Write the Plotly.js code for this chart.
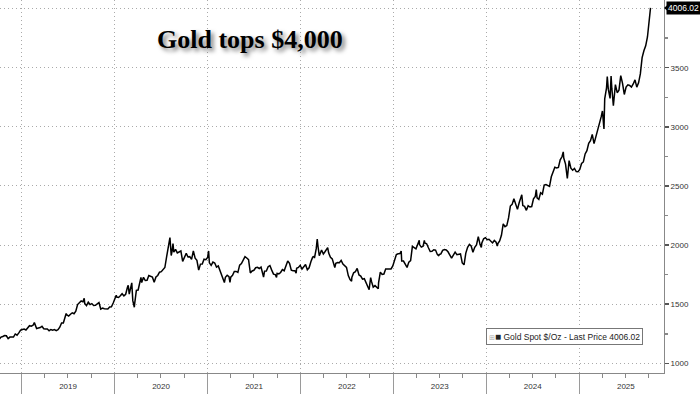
<!DOCTYPE html>
<html>
<head>
<meta charset="utf-8">
<script src="https://cdn.plot.ly/plotly-3.0.1.min.js"></script>
<style>html,body{margin:0;padding:0;background:#fff;}#chart{width:700px;height:394px;}</style>
</head>
<body>
<div id="chart"></div>
<script>
const dates = [
"2018-10-05","2018-10-12","2018-10-19","2018-10-26","2018-11-02","2018-11-09","2018-11-16","2018-11-23","2018-11-30","2018-12-07","2018-12-14","2018-12-21","2018-12-28",
"2019-01-04","2019-01-11","2019-01-18","2019-01-25","2019-02-01","2019-02-08","2019-02-15","2019-02-20","2019-02-22","2019-03-01","2019-03-08","2019-03-15","2019-03-22","2019-03-29","2019-04-05","2019-04-12","2019-04-19","2019-04-26","2019-05-03","2019-05-10","2019-05-17","2019-05-24","2019-05-31","2019-06-07","2019-06-14","2019-06-21","2019-06-25","2019-06-28","2019-07-05","2019-07-12","2019-07-19","2019-07-26","2019-08-02","2019-08-09","2019-08-16","2019-08-23","2019-08-30","2019-09-04","2019-09-06","2019-09-13","2019-09-20","2019-09-27","2019-10-04","2019-10-11","2019-10-18","2019-10-25","2019-11-01","2019-11-08","2019-11-15","2019-11-22","2019-11-29","2019-12-06","2019-12-13","2019-12-20","2019-12-27",
"2020-01-03","2020-01-08","2020-01-10","2020-01-17","2020-01-24","2020-01-31","2020-02-07","2020-02-14","2020-02-21","2020-02-24","2020-02-28","2020-03-06","2020-03-09","2020-03-13","2020-03-19","2020-03-20","2020-03-27","2020-04-03","2020-04-10","2020-04-14","2020-04-17","2020-04-24","2020-05-01","2020-05-08","2020-05-15","2020-05-22","2020-05-29","2020-06-05","2020-06-12","2020-06-19","2020-06-26","2020-07-03","2020-07-10","2020-07-17","2020-07-24","2020-07-31","2020-08-06","2020-08-07","2020-08-11","2020-08-14","2020-08-18","2020-08-21","2020-08-28","2020-09-04","2020-09-11","2020-09-18","2020-09-25","2020-10-02","2020-10-09","2020-10-16","2020-10-23","2020-10-30","2020-11-06","2020-11-13","2020-11-20","2020-11-27","2020-12-04","2020-12-11","2020-12-18","2020-12-25",
"2021-01-01","2021-01-05","2021-01-08","2021-01-15","2021-01-22","2021-01-29","2021-02-05","2021-02-12","2021-02-19","2021-02-26","2021-03-05","2021-03-08","2021-03-12","2021-03-19","2021-03-26","2021-03-30","2021-04-02","2021-04-09","2021-04-16","2021-04-23","2021-04-30","2021-05-07","2021-05-14","2021-05-21","2021-05-28","2021-06-04","2021-06-11","2021-06-18","2021-06-25","2021-07-02","2021-07-09","2021-07-16","2021-07-23","2021-07-30","2021-08-06","2021-08-09","2021-08-13","2021-08-20","2021-08-27","2021-09-03","2021-09-10","2021-09-17","2021-09-24","2021-09-29","2021-10-01","2021-10-08","2021-10-15","2021-10-22","2021-10-29","2021-11-05","2021-11-12","2021-11-19","2021-11-26","2021-12-03","2021-12-10","2021-12-15","2021-12-17","2021-12-24","2021-12-31",
"2022-01-07","2022-01-14","2022-01-21","2022-01-28","2022-02-04","2022-02-11","2022-02-18","2022-02-24","2022-02-25","2022-03-04","2022-03-08","2022-03-11","2022-03-16","2022-03-18","2022-03-25","2022-04-01","2022-04-08","2022-04-18","2022-04-22","2022-04-29","2022-05-06","2022-05-13","2022-05-16","2022-05-20","2022-05-27","2022-06-03","2022-06-10","2022-06-17","2022-06-24","2022-07-01","2022-07-08","2022-07-15","2022-07-21","2022-07-22","2022-07-29","2022-08-05","2022-08-12","2022-08-19","2022-08-26","2022-09-02","2022-09-09","2022-09-16","2022-09-23","2022-09-28","2022-09-30","2022-10-04","2022-10-07","2022-10-14","2022-10-21","2022-10-28","2022-11-03","2022-11-04","2022-11-11","2022-11-18","2022-11-25","2022-12-02","2022-12-09","2022-12-16","2022-12-23","2022-12-30",
"2023-01-06","2023-01-13","2023-01-20","2023-01-27","2023-02-01","2023-02-03","2023-02-10","2023-02-17","2023-02-24","2023-03-03","2023-03-10","2023-03-17","2023-03-24","2023-03-31","2023-04-07","2023-04-13","2023-04-14","2023-04-21","2023-04-28","2023-05-03","2023-05-05","2023-05-12","2023-05-19","2023-05-26","2023-06-02","2023-06-09","2023-06-16","2023-06-23","2023-06-29","2023-06-30","2023-07-07","2023-07-14","2023-07-21","2023-07-28","2023-08-04","2023-08-11","2023-08-18","2023-08-25","2023-09-01","2023-09-08","2023-09-15","2023-09-22","2023-09-29","2023-10-06","2023-10-13","2023-10-20","2023-10-27","2023-11-03","2023-11-10","2023-11-17","2023-11-24","2023-12-01","2023-12-08","2023-12-13","2023-12-15","2023-12-22","2023-12-29",
"2024-01-05","2024-01-12","2024-01-19","2024-01-26","2024-02-02","2024-02-09","2024-02-14","2024-02-16","2024-02-23","2024-03-01","2024-03-08","2024-03-15","2024-03-22","2024-03-29","2024-04-05","2024-04-12","2024-04-19","2024-04-26","2024-05-03","2024-05-10","2024-05-17","2024-05-20","2024-05-24","2024-05-31","2024-06-07","2024-06-14","2024-06-21","2024-06-28","2024-07-05","2024-07-12","2024-07-16","2024-07-19","2024-07-26","2024-08-02","2024-08-09","2024-08-16","2024-08-23","2024-08-30","2024-09-06","2024-09-13","2024-09-20","2024-09-27","2024-10-04","2024-10-11","2024-10-18","2024-10-25","2024-10-30","2024-11-01","2024-11-08","2024-11-14","2024-11-15","2024-11-22","2024-11-29","2024-12-06","2024-12-13","2024-12-20","2024-12-27",
"2025-01-03","2025-01-10","2025-01-17","2025-01-24","2025-01-31","2025-02-07","2025-02-14","2025-02-21","2025-02-28","2025-03-07","2025-03-14","2025-03-21","2025-03-28","2025-04-02","2025-04-04","2025-04-08","2025-04-11","2025-04-18","2025-04-21","2025-04-25","2025-05-02","2025-05-06","2025-05-09","2025-05-15","2025-05-16","2025-05-23","2025-05-30","2025-06-06","2025-06-13","2025-06-20","2025-06-27","2025-07-04","2025-07-11","2025-07-18","2025-07-25","2025-08-01","2025-08-08","2025-08-15","2025-08-22","2025-08-29","2025-09-05","2025-09-12","2025-09-19","2025-09-26","2025-10-03","2025-10-07","2025-10-08"
];
const goldPrice = [
1203,1222,1227,1235,1233,1209,1222,1223,1222,1248,1238,1257,1280,
1286,1290,1282,1303,1318,1314,1322,1344,1328,1294,1298,1302,1313,1292,1291,1290,1276,1286,1280,1285,1277,1284,1305,1341,1341,1400,1421,1409,1400,1415,1426,1419,1440,1497,1513,1527,1520,1550,1507,1488,1517,1497,1505,1489,1490,1505,1514,1459,1468,1462,1464,1460,1476,1478,1510,
1552,1575,1560,1557,1571,1589,1570,1584,1643,1660,1585,1674,1680,1530,1474,1498,1617,1620,1683,1727,1683,1727,1700,1702,1743,1735,1730,1685,1730,1743,1771,1775,1798,1810,1902,1975,2063,2035,1912,1944,2013,1940,1964,1934,1941,1950,1862,1900,1930,1899,1902,1879,1951,1889,1871,1788,1839,1840,1881,1877,
1895,1950,1850,1828,1856,1848,1814,1824,1784,1734,1700,1683,1727,1745,1733,1685,1729,1744,1777,1777,1769,1831,1844,1881,1903,1891,1877,1764,1781,1787,1808,1812,1802,1814,1763,1730,1780,1781,1817,1827,1788,1754,1750,1726,1761,1757,1768,1793,1783,1818,1865,1846,1788,1783,1783,1763,1804,1811,1829,
1797,1817,1835,1791,1808,1859,1898,1904,1889,1970,2050,1988,1910,1921,1958,1925,1946,1979,1932,1897,1883,1811,1810,1846,1853,1851,1871,1840,1827,1811,1742,1708,1695,1727,1766,1775,1802,1747,1738,1712,1716,1675,1644,1622,1660,1725,1695,1644,1657,1645,1630,1681,1771,1751,1755,1797,1797,1793,1798,1824,
1865,1920,1926,1928,1950,1865,1865,1842,1811,1856,1868,1989,1978,1969,2007,2040,2004,1983,1990,2040,2017,2011,1977,1946,1948,1961,1958,1921,1908,1919,1925,1955,1962,1959,1943,1914,1889,1915,1940,1919,1924,1925,1849,1833,1932,1981,2006,1992,1940,1981,2002,2072,2004,1980,2019,2053,2063,
2045,2049,2029,2018,2039,2024,1992,2013,2035,2083,2179,2156,2165,2230,2330,2344,2392,2337,2302,2360,2415,2425,2334,2327,2294,2333,2322,2326,2392,2411,2469,2400,2387,2443,2431,2507,2512,2503,2497,2578,2622,2658,2653,2657,2721,2747,2788,2736,2685,2565,2563,2715,2650,2633,2648,2622,2621,
2640,2690,2703,2771,2798,2861,2883,2936,2858,2910,2984,3023,3084,3134,3037,2982,3237,3327,3425,3319,3240,3430,3325,3180,3202,3357,3289,3310,3433,3368,3274,3337,3355,3350,3337,3363,3397,3336,3372,3448,3586,3643,3685,3760,3886,3985,4006.02
];
const seriesName = "Gold Spot $/Oz - Last Price";
const lastPrice = 4006.02;
const chartTitle = "Gold tops $4,000";
const yTickVals = [1000, 1500, 2000, 2500, 3000, 3500, 4000];
const yTickText = ["1000", "1500", "2000", "2500", "3000", "3500", ""];
const xRange = ["2018-10-08", "2025-11-30"];
const yRange = [918, 4073];

const gridCol = "#aaaaaa";
const gridDash = "1px,3px";
const tickFont = {family: "Liberation Sans, Arial, sans-serif", size: 8, color: "#333"};

const trace = {
  x: dates, y: goldPrice, type: "scatter", mode: "lines",
  name: seriesName, line: {color: "#000", width: 1.5}, hoverinfo: "skip", showlegend: false
};

const layout = {
  width: 700, height: 394,
  margin: {l: 0, r: 36, t: 0, b: 21, pad: 0},
  paper_bgcolor: "#fff", plot_bgcolor: "#fff",
  showlegend: false,
  xaxis: {
    type: "date", range: xRange, tick0: "2019-01-01", dtick: "M12",
    tickformat: "%Y", ticklabelmode: "period", ticks: "outside", ticklen: 21,
    tickcolor: "#9a9a9a", tickwidth: 1, ticklabelstandoff: -16,
    showgrid: true, gridcolor: gridCol, griddash: gridDash, gridwidth: 1,
    showline: true, linecolor: "#888", linewidth: 1, zeroline: false,
    tickfont: tickFont,
    minor: {tick0: "2019-01-01", dtick: "M3", ticks: "outside", ticklen: 4, tickcolor: "#888", showgrid: false},
    fixedrange: true
  },
  yaxis: {
    side: "right", range: yRange, tickmode: "array", tickvals: yTickVals, ticktext: yTickText,
    ticks: "outside", ticklen: 4, tickcolor: "#555", tickwidth: 1.5,
    showgrid: true, gridcolor: gridCol, griddash: gridDash, gridwidth: 1,
    showline: true, linecolor: "#888", linewidth: 1, zeroline: false,
    tickfont: tickFont,
    minor: {tick0: 1000, dtick: 250, ticks: "outside", ticklen: 3, tickcolor: "#888", showgrid: false},
    fixedrange: true
  },
  annotations: [
    {
      xref: "paper", yref: "paper", x: 0.3758, y: 0.893, xanchor: "center", yanchor: "middle",
      text: chartTitle, showarrow: false,
      font: {family: "Liberation Serif, Times New Roman, serif", size: 26, color: "#000", weight: "bold",
             shadow: "3px 3px 4px rgba(0,0,0,0.5)"}
    },
    {
      xref: "paper", yref: "paper", x: 0.8494, y: 0.0984, xanchor: "center", yanchor: "middle",
      text: "<span style='color:#aaa;font-size:7px'>⊞</span><span style='font-size:10px'>■</span> " + seriesName + " " + lastPrice.toFixed(2),
      showarrow: false, bgcolor: "#fff", bordercolor: "#777", borderwidth: 1, borderpad: 2,
      font: {family: "Liberation Sans, Arial, sans-serif", size: 8.5, color: "#222"}
    },
    {
      xref: "paper", yref: "y", x: 1, y: lastPrice, xanchor: "left", yanchor: "middle", xshift: 2,
      text: lastPrice.toFixed(2), showarrow: false, bgcolor: "#000", borderpad: 1,
      font: {family: "Liberation Sans, Arial, sans-serif", size: 8.5, color: "#fff"}
    }
  ],
  shapes: [
    {type: "path", xref: "paper", yref: "y", path: "M 1.0,4006 L 1.006,4035 L 1.006,3977 Z",
     fillcolor: "#000", line: {width: 0}}
  ]
};

Plotly.newPlot("chart", [trace], layout, {staticPlot: true, displayModeBar: false});
</script>
</body>
</html>
